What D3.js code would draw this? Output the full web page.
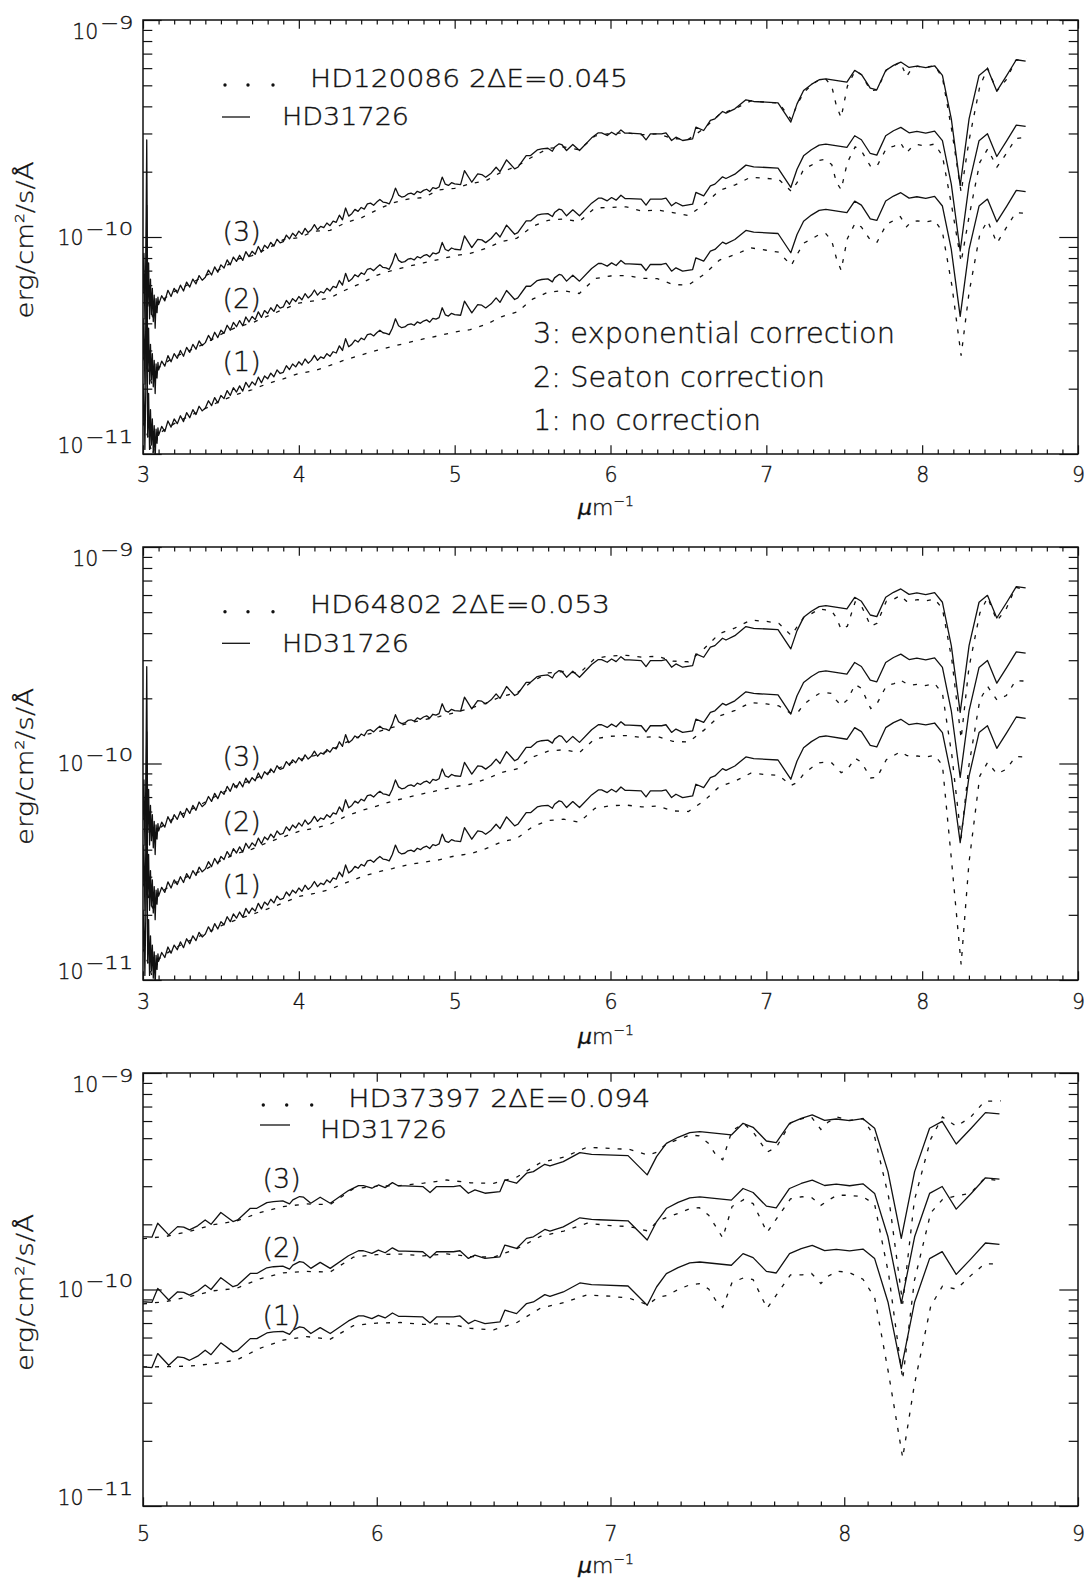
<!DOCTYPE html>
<html>
<head>
<meta charset="utf-8">
<script src="https://cdn.jsdelivr.net/npm/d3@7"></script>
<style>
  body { margin: 0; background: #fff; }
  svg { display: block; }
  text { font-family: "DejaVu Sans", sans-serif; font-weight: 200; fill: #111; stroke: #111; stroke-width: 0.35px; }
</style>
</head>
<body>
<svg id="fig" width="1087" height="1583"></svg>
<script>
// ---------------------------------------------------------------
// Flux unit used in every array: 1e-11 erg/cm^2/s/A
// ---------------------------------------------------------------

// Comparison star HD31726 (solid line), wavenumber in 1/micron
const wnHD31726 = [
  3.000,3.006,3.012,3.018,3.024,3.030,3.036,3.042,3.048,3.054,3.060,3.066,3.072,3.078,3.084,3.090,3.096,
  3.10,3.12,3.14,3.16,3.18,3.20,3.22,3.24,3.26,3.28,3.30,3.32,3.34,3.36,3.38,3.40,3.42,3.44,3.46,3.48,
  3.50,3.52,3.54,3.56,3.58,3.60,3.62,3.64,3.66,3.68,3.70,3.72,3.74,3.76,3.78,3.80,3.82,3.84,3.86,3.88,
  3.90,3.92,3.94,3.96,3.98,4.00,4.02,4.04,4.06,4.08,4.10,4.12,4.14,4.16,4.18,4.20,4.22,4.24,4.26,4.28,
  4.30,4.32,4.34,4.36,4.38,4.40,4.42,4.44,4.46,4.48,4.50,4.52,4.54,4.56,4.58,4.60,4.62,4.64,4.66,4.68,
  4.70,4.72,4.74,4.76,4.78,4.80,4.82,4.84,4.86,4.88,4.90,4.92,4.94,4.96,4.98,
  5.000,5.038,5.063,5.110,5.148,5.174,5.199,5.234,5.266,5.291,5.333,5.385,5.405,5.459,5.487,5.530,
  5.558,5.598,5.627,5.641,5.670,5.687,5.718,5.758,5.801,5.879,5.922,5.943,5.979,6.007,6.036,6.067,
  6.093,6.121,6.197,6.228,6.256,6.285,6.328,6.356,6.392,6.420,6.463,6.527,6.548,6.598,6.641,6.670,
  6.719,6.741,6.798,6.869,6.919,6.950,7.075,7.157,7.197,7.239,7.289,7.339,7.382,7.517,7.567,7.610,
  7.667,7.709,7.766,7.816,7.863,7.916,7.966,8.023,8.080,8.130,8.187,8.244,8.301,8.365,8.419,8.479,
  8.543,8.604,8.664
];
const fluxHD31726 = [
  1.40,2.10,1.05,2.00,7.00,1.20,1.90,1.05,1.60,1.10,1.45,1.02,1.35,0.95,1.30,1.12,1.32,
  1.22,1.34,1.27,1.42,1.33,1.45,1.38,1.50,1.41,1.55,1.47,1.60,1.52,1.66,1.58,1.63,1.76,1.67,1.82,1.72,
  1.86,1.80,1.96,1.86,2.02,1.93,2.06,1.95,2.14,2.03,2.15,2.08,2.26,2.13,2.29,2.22,2.36,2.27,2.44,2.35,
  2.38,2.55,2.45,2.60,2.52,2.66,2.57,2.74,2.62,2.70,2.85,2.70,2.80,2.76,2.90,2.82,2.96,2.92,3.15,3.00,
  3.40,3.12,3.20,3.35,3.28,3.42,3.36,3.55,3.58,3.50,3.62,3.72,3.62,3.60,3.55,3.80,4.20,3.90,3.82,3.85,
  3.95,3.98,3.92,4.06,4.00,4.10,4.15,4.05,4.22,4.18,4.25,4.72,4.38,4.32,4.45,
  4.39,4.36,5.06,4.47,4.88,4.85,4.71,4.92,5.24,5.00,5.67,5.15,5.24,5.93,5.93,6.30,
  6.37,6.41,6.21,6.48,6.72,6.67,6.26,6.67,6.26,7.16,7.55,7.55,7.34,7.60,7.39,7.79,
  7.52,7.52,7.47,7.01,7.47,7.47,7.47,7.55,6.96,7.21,6.96,7.08,8.02,7.74,8.61,8.76,
  9.47,9.30,9.74,10.72,10.53,10.50,10.38,8.46,10.27,11.83,12.62,13.26,13.40,12.94,14.64,14.03,
  12.13,11.92,14.64,15.44,16.00,15.11,15.33,15.07,15.38,13.89,8.76,4.31,8.76,13.89,14.95,11.75,
  13.89,16.40,16.17
];

// Reddened stars (dotted lines): wavenumber grids
const wnStarUV = [
  3.00,3.03,3.06,3.10,3.20,3.30,3.40,3.50,3.60,3.70,3.80,3.90,4.00,4.10,4.20,4.30,4.40,4.50,4.60,4.70,
  4.80,4.90,5.00,5.10,5.20,5.30,5.40,5.50,5.60,5.70,5.80,5.90,6.00,6.10,6.20,6.30,6.40,6.50,6.60,6.70,
  6.80,6.90,7.00,7.08,7.16,7.20,7.24,7.29,7.34,7.38,7.42,7.45,7.48,7.52,7.57,7.61,7.67,7.71,7.77,7.82,
  7.86,7.90,7.93,7.97,8.02,8.08,8.13,8.19,8.25,8.30,8.37,8.42,8.48,8.54,8.60,8.67
];
const wnStarFUV = [
  5.00,5.10,5.20,5.30,5.40,5.50,5.60,5.70,5.80,5.90,6.00,6.10,6.20,6.30,6.40,6.50,6.60,6.70,6.80,6.90,
  7.00,7.08,7.16,7.20,7.24,7.29,7.34,7.38,7.42,7.45,7.48,7.52,7.57,7.61,7.67,7.71,7.77,7.82,7.86,7.90,
  7.93,7.97,8.02,8.08,8.13,8.19,8.25,8.30,8.37,8.42,8.48,8.54,8.60,8.67
];

// HD120086: 1 = no correction, 2 = Seaton correction, 3 = exponential correction
const hd120086None = [
  1.40,1.21,0.99,1.24,1.38,1.50,1.62,1.76,1.88,1.98,2.11,2.22,2.35,2.42,2.56,2.72,2.86,3.00,3.13,3.26,
  3.39,3.51,3.65,3.74,3.95,4.29,4.51,5.17,5.57,5.66,5.49,6.43,6.61,6.65,6.45,6.43,6.04,6.00,6.72,7.83,
  8.30,8.91,8.69,8.51,7.40,8.37,9.37,9.78,10.28,10.40,9.59,7.96,7.03,9.83,11.59,11.12,9.61,9.45,11.41,11.95,
  12.42,11.15,11.76,11.87,11.72,11.95,10.55,6.02,2.84,5.49,10.30,11.87,9.37,11.04,12.94,12.86
];
const hd120086Seaton = [
  1.40,1.24,1.03,1.25,1.40,1.50,1.62,1.78,1.92,2.01,2.16,2.32,2.48,2.54,2.62,2.85,3.06,3.33,3.51,3.66,
  3.80,3.94,4.10,4.20,4.43,4.76,4.94,5.60,5.97,6.06,5.88,6.81,6.84,6.89,6.59,6.66,6.48,6.28,7.04,8.20,
  8.69,9.44,9.31,9.22,8.12,8.97,10.28,10.72,11.28,11.40,10.77,8.92,8.27,11.02,13.01,12.47,10.54,10.60,12.80,13.11,
  13.62,12.23,12.89,13.33,13.15,13.41,11.83,6.91,3.83,6.16,11.04,12.72,10.51,12.11,14.20,14.43
];
const hd120086Exp = [
  1.40,1.30,1.08,1.25,1.40,1.52,1.66,1.78,1.97,2.05,2.21,2.43,2.48,2.66,2.68,2.91,3.06,3.33,3.59,3.74,
  3.80,4.12,4.19,4.40,4.54,4.98,5.30,5.86,6.40,6.50,6.30,7.30,7.50,7.55,7.40,7.47,7.10,7.05,7.90,9.20,
  9.75,10.60,10.45,10.35,8.70,10.30,11.53,12.60,13.25,13.40,12.36,10.02,8.86,12.37,14.60,14.00,11.82,11.90,14.70,15.40,
  16.00,13.72,14.80,15.30,15.10,15.40,13.58,7.75,4.01,6.91,12.38,14.95,11.80,13.27,16.30,16.57
];

// HD64802
const hd64802None = [
  1.40,1.21,1.03,1.25,1.40,1.52,1.64,1.78,1.90,2.01,2.13,2.27,2.43,2.51,2.62,2.81,2.99,3.15,3.27,3.41,
  3.50,3.59,3.74,3.83,4.04,4.34,4.51,5.11,5.45,5.53,5.36,6.21,6.38,6.43,6.30,6.36,6.04,6.00,6.72,7.83,
  8.30,9.02,8.89,8.81,7.93,8.18,8.96,9.56,10.06,10.17,10.06,9.56,9.07,9.38,10.57,10.14,8.57,8.62,10.41,10.90,
  11.33,10.90,10.73,10.83,10.69,10.90,9.84,3.46,1.18,3.46,8.77,10.11,8.96,9.40,10.77,10.71
];
const hd64802Seaton = [
  1.40,1.24,1.08,1.25,1.40,1.52,1.62,1.78,1.92,2.01,2.16,2.29,2.43,2.51,2.62,2.85,3.03,3.18,3.35,3.49,
  3.63,3.76,3.91,4.01,4.23,4.54,4.72,5.35,5.70,5.79,5.61,6.50,6.68,6.73,6.59,6.66,6.33,6.28,7.13,8.30,
  8.79,9.56,9.43,9.22,8.50,8.57,9.37,10.00,10.52,10.64,10.52,9.78,9.27,9.83,11.59,11.12,8.97,9.45,11.41,11.69,
  12.14,11.69,11.50,11.61,11.46,11.69,10.55,5.49,2.26,4.89,9.84,11.35,9.82,10.30,12.08,12.00
];
const hd64802Exp = [
  1.40,1.30,1.13,1.25,1.40,1.52,1.66,1.82,1.97,2.10,2.26,2.43,2.60,2.72,2.87,3.12,3.36,3.49,3.67,3.83,
  3.98,4.12,4.29,4.50,4.75,5.10,5.30,6.00,6.55,6.65,6.52,7.64,7.85,7.90,7.75,7.82,7.43,7.38,8.47,9.97,
  10.57,11.49,11.33,11.10,9.76,10.78,11.80,12.31,12.95,12.80,12.65,11.76,10.40,10.77,13.94,13.37,10.78,11.10,14.04,14.37,
  14.93,14.04,14.13,14.27,14.09,14.37,12.97,7.58,3.26,6.91,12.38,14.61,11.40,12.97,16.30,15.83
];

// HD37397 (far-UV part only)
const hd37397None = [
  4.39,4.40,4.43,4.54,4.72,5.35,5.84,6.06,5.88,6.81,7.00,7.04,6.90,6.97,6.62,6.51,7.04,8.20,8.69,9.44,
  9.31,9.12,8.50,9.18,9.37,10.00,10.52,10.64,10.06,8.92,8.27,10.77,11.33,11.12,8.18,9.45,11.67,11.69,11.86,10.66,
  11.50,12.15,11.99,11.15,9.19,4.07,1.67,3.63,8.38,10.35,10.04,11.56,13.11,13.17
];
const hd37397Seaton = [
  4.29,4.40,4.64,4.93,5.06,5.60,5.97,6.06,6.02,7.05,7.25,7.29,7.15,7.30,7.10,7.05,7.72,8.79,9.31,10.12,
  9.86,9.77,9.32,10.30,10.76,11.23,11.81,11.94,11.02,9.78,8.66,12.08,13.01,12.47,9.18,10.60,13.10,13.41,13.31,12.23,
  12.89,13.63,13.62,13.41,12.38,5.88,1.92,5.49,11.30,13.02,13.55,13.90,16.30,15.83
];
const hd37397Exp = [
  4.29,4.40,4.64,4.98,5.18,5.66,6.04,6.21,6.16,7.30,7.50,7.55,7.75,8.01,7.78,7.73,8.27,9.63,10.21,11.36,
  11.20,11.10,10.46,10.78,11.80,12.31,12.95,12.80,11.81,10.48,9.94,13.56,14.60,13.37,10.78,11.36,14.70,15.40,15.63,13.72,
  14.80,15.65,15.10,15.40,12.68,6.67,2.15,6.45,12.38,15.65,14.18,15.60,18.50,18.60
];

// Vertical display factors for the curve sets (1), (2), (3)
const curveFactors = [1, 2, 4];
const curveLabels = ["(1)", "(2)", "(3)"];
const correctionNotes = ["3: exponential correction", "2: Seaton correction", "1: no correction"];
const yMajorTicks = [1e-11, 1e-10, 1e-9];
const yTickExponents = ["−11", "−10", "−9"];
const FLUX_UNIT = 1e-11;

// ---------------------------------------------------------------
const svg = d3.select("#fig");
const LEFT = 143, RIGHT = 1078;

const panels = [
  { top: 20, bottom: 454, xDomain: [3, 9], wn: wnStarUV,
    star: [hd120086None, hd120086Seaton, hd120086Exp],
    title: "HD120086 2ΔE=0.045", titleLen: 318,
    leg: { dots: [225, 248, 273], dotY: 65, tx: 310, ty: 67, line: [222, 250], lineY: 97, rx: 282, ry: 105 },
    lab: { x: 241.7, y: [342, 279, 212] }, notes: true, xlab: 13, ulab: 61 },
  { top: 547, bottom: 980, xDomain: [3, 9], wn: wnStarUV,
    star: [hd64802None, hd64802Seaton, hd64802Exp],
    title: "HD64802 2ΔE=0.053", titleLen: 300,
    leg: { dots: [225, 248, 273], dotY: 64.7, tx: 310, ty: 66.3, line: [222, 250], lineY: 96.3, rx: 282, ry: 104.7 },
    lab: { x: 241.7, y: [338, 274.7, 209.7] }, notes: false, xlab: 14, ulab: 64 },
  { top: 1073, bottom: 1506, xDomain: [5, 9], wn: wnStarFUV,
    star: [hd37397None, hd37397Seaton, hd37397Exp],
    title: "HD37397 2ΔE=0.094", titleLen: 302,
    leg: { dots: [263.3, 286.7, 311.7], dotY: 32, tx: 348.3, ty: 33.7, line: [260, 290], lineY: 52, rx: 320, ry: 65.3 },
    lab: { x: 281.7, y: [242.5, 174.5, 105.5] }, notes: false, xlab: 20, ulab: 67 }
];

const INK = "#111";

panels.forEach((p, i) => {
  const x = d3.scaleLinear().domain(p.xDomain).range([LEFT, RIGHT]);
  const y = d3.scaleLog().domain([1e-11, 1e-9]).range([p.bottom, p.top]);
  const g = svg.append("g");

  g.append("clipPath").attr("id", "clip" + i)
    .append("rect").attr("x", LEFT).attr("y", p.top)
    .attr("width", RIGHT - LEFT).attr("height", p.bottom - p.top);

  // ---- axes ----
  const majorX = d3.range(p.xDomain[0], p.xDomain[1] + 0.5, 1);
  const minorX = d3.range(p.xDomain[0] * 10, p.xDomain[1] * 10 + 1)
    .filter(v => v % 10 !== 0).map(v => v / 10);
  const minorY = [];
  [-11, -10].forEach(e => { for (let m = 2; m <= 9; m++) minorY.push(m * Math.pow(10, e)); });

  const styleAxis = sel => {
    sel.select(".domain").remove();
    sel.selectAll("line").attr("stroke", INK).attr("stroke-width", 1.2);
  };

  g.append("g").attr("transform", `translate(0,${p.bottom})`)
    .call(d3.axisBottom(x).tickValues(minorX).tickSize(-4.4).tickFormat("")).call(styleAxis);
  const bx = g.append("g").attr("transform", `translate(0,${p.bottom})`)
    .call(d3.axisBottom(x).tickValues(majorX).tickSizeInner(-8.7).tickSizeOuter(0)
      .tickPadding(p.xlab).tickFormat(d3.format("d"))).call(styleAxis);
  bx.selectAll("text").style("font-size", "20.5px").attr("fill", INK);

  g.append("g").attr("transform", `translate(0,${p.top})`)
    .call(d3.axisTop(x).tickValues(minorX).tickSize(-4.4).tickFormat("")).call(styleAxis);
  g.append("g").attr("transform", `translate(0,${p.top})`)
    .call(d3.axisTop(x).tickValues(majorX).tickSize(-8.7).tickFormat("")).call(styleAxis);

  g.append("g").attr("transform", `translate(${LEFT},0)`)
    .call(d3.axisLeft(y).tickValues(minorY).tickSize(-9.3).tickFormat("")).call(styleAxis);
  g.append("g").attr("transform", `translate(${LEFT},0)`)
    .call(d3.axisLeft(y).tickValues(yMajorTicks).tickSize(-18.7).tickFormat("")).call(styleAxis);
  g.append("g").attr("transform", `translate(${RIGHT},0)`)
    .call(d3.axisRight(y).tickValues(minorY).tickSize(-9.3).tickFormat("")).call(styleAxis);
  g.append("g").attr("transform", `translate(${RIGHT},0)`)
    .call(d3.axisRight(y).tickValues(yMajorTicks).tickSize(-18.7).tickFormat("")).call(styleAxis);

  g.append("rect").attr("x", LEFT).attr("y", p.top)
    .attr("width", RIGHT - LEFT).attr("height", p.bottom - p.top)
    .attr("fill", "none").attr("stroke", INK).attr("stroke-width", 1.5);

  // y tick labels 10^n
  const labShift = [-9, 0, 11];
  yMajorTicks.forEach((v, k) => {
    const supW = yTickExponents[k].length === 2 ? 33.3 : 48;
    const supX = 133.3 - supW;
    const base = y(v) + 7.5 + labShift[k];
    g.append("text").attr("x", supX - 1.7).attr("y", base)
      .attr("text-anchor", "end").style("font-size", "20.5px").text("10");
    g.append("text").attr("x", supX).attr("y", base - 10)
      .attr("textLength", supW).attr("lengthAdjust", "spacingAndGlyphs")
      .style("font-size", "17px").text(yTickExponents[k]);
  });

  // axis titles
  const ut = g.append("text").attr("x", 606).attr("y", p.bottom + p.ulab)
    .attr("text-anchor", "middle").style("font-size", "22px");
  ut.append("tspan").style("font-style", "italic").text("μ");
  ut.append("tspan").text("m");
  ut.append("tspan").attr("dy", -9).style("font-size", "14px").text("−1");

  const yt = g.append("text")
    .attr("transform", `translate(33,${(p.top + p.bottom) / 2 + 3}) rotate(-90)`)
    .attr("text-anchor", "middle").attr("textLength", 157).attr("lengthAdjust", "spacingAndGlyphs")
    .style("font-size", "23px");
  yt.append("tspan").text("erg/cm");
  yt.append("tspan").attr("dy", -9).style("font-size", "13px").text("2");
  yt.append("tspan").attr("dy", 9).text("/s/Å");

  // ---- curves ----
  const plot = g.append("g").attr("clip-path", `url(#clip${i})`);
  const line = k => d3.line()
    .x(d => x(d[0]))
    .y(d => y(d[1] * FLUX_UNIT * curveFactors[k]));

  curveFactors.forEach((f, k) => {
    const dotted = p.wn.map((w, j) => [w, p.star[k][j]]);
    plot.append("path").datum(dotted).attr("d", line(k))
      .attr("fill", "none").attr("stroke", INK).attr("stroke-width", 1.3)
      .attr("stroke-dasharray", "4,8");
    const solid = wnHD31726.map((w, j) => [w, fluxHD31726[j]]);
    plot.append("path").datum(solid).attr("d", line(k))
      .attr("fill", "none").attr("stroke", INK).attr("stroke-width", 1.3)
      .attr("stroke-linejoin", "round");
  });

  // curve set labels
  curveLabels.forEach((t, k) => {
    g.append("text").attr("x", p.lab.x).attr("y", p.top + p.lab.y[k] + 9)
      .attr("text-anchor", "middle").style("font-size", "27px").text(t);
  });

  // legend
  const L = p.leg;
  L.dots.forEach(dx => g.append("circle").attr("cx", dx).attr("cy", p.top + L.dotY)
    .attr("r", 1.7).attr("fill", INK));
  g.append("text").attr("x", L.tx).attr("y", p.top + L.ty)
    .attr("textLength", p.titleLen).attr("lengthAdjust", "spacingAndGlyphs")
    .style("font-size", "25px").text(p.title);
  g.append("line").attr("x1", L.line[0]).attr("x2", L.line[1])
    .attr("y1", p.top + L.lineY).attr("y2", p.top + L.lineY)
    .attr("stroke", INK).attr("stroke-width", 1.3);
  g.append("text").attr("x", L.rx).attr("y", p.top + L.ry)
    .attr("textLength", 127).attr("lengthAdjust", "spacingAndGlyphs")
    .style("font-size", "25px").text("HD31726");

  if (p.notes) {
    const ny = [343, 387, 430];
    const nl = [362, 292, 228];
    correctionNotes.forEach((t, k) => {
      g.append("text").attr("x", 533).attr("y", ny[k])
        .attr("textLength", nl[k]).attr("lengthAdjust", "spacingAndGlyphs")
        .style("font-size", "29px").text(t);
    });
  }
});
</script>
</body>
</html>
